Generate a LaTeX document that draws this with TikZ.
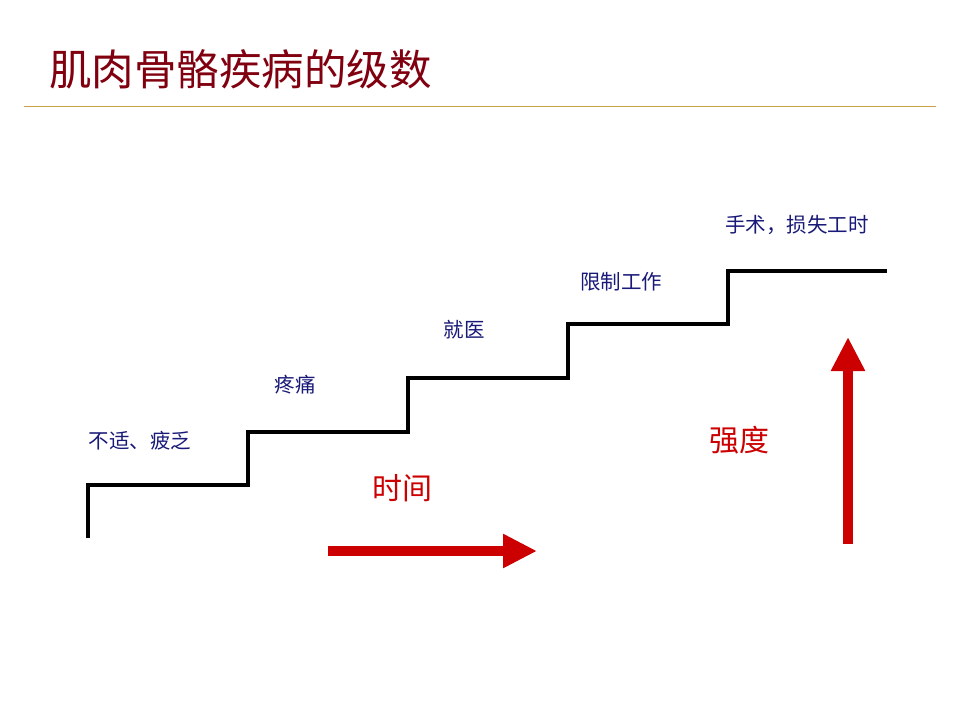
\documentclass[tikz,border=0pt]{standalone}
\usepackage{fontspec}
\newfontfamily\cjk{Noto Sans CJK SC}
\usepackage{xcolor}
\usetikzlibrary{arrows.meta, positioning}
\definecolor{titlered}{RGB}{128,0,16}
\definecolor{rulegold}{RGB}{200,160,70}
\definecolor{stagenavy}{RGB}{25,25,120}
\definecolor{arrowred}{RGB}{204,0,0}

\begin{document}
\begin{tikzpicture}[
    x=1pt, y=-1pt,
    stage/.style={inner sep=0pt, text=stagenavy, font=\cjk\fontsize{20.5}{20.5}\selectfont},
    axislabel/.style={inner sep=0pt, text=arrowred, font=\cjk\fontsize{30}{30}\selectfont},
    stair/.style={line width=4pt, draw=black, line join=miter},
    bigarrow/.style={line width=10pt, draw=arrowred, -{Triangle[width=32pt, length=34pt]}}
]
\useasboundingbox (0,0) rectangle (960,720);

% title and rule
\node[anchor=west, inner sep=0pt, text=titlered, font=\cjk\fontsize{42.5}{42.5}\selectfont]
    (title) at (49,69) {肌肉骨骼疾病的级数};
\draw[rulegold, line width=1pt] (24,106) -- (936,106);

% staircase
\draw[stair] (88,538) -- (88,485) -- (248,485) -- (248,432) -- (408,432)
    -- (408,378) -- (568,378) -- (568,324) -- (728,324) -- (728,271) -- (887,271);

% stage labels
\node[stage] (s1) at (140,441) {不适、疲乏};
\node[stage] (s2) at (295,385) {疼痛};
\node[stage] (s3) at (464,330) {就医};
\node[stage] (s4) at (621,282) {限制工作};
\node[stage] (s5) at (797,225) {手术，损失工时};

% axes
\node[axislabel] (time) at (402,488) {时间};
\node[axislabel] (level) at (739,440) {强度};
\coordinate (tstart) at (328,551);
\coordinate (tend) at (537,551);
\coordinate (lstart) at (848,544);
\coordinate (lend) at (848,337);
\draw[bigarrow] (tstart) -- (tend);
\draw[bigarrow] (lstart) -- (lend);
\end{tikzpicture}
\end{document}
